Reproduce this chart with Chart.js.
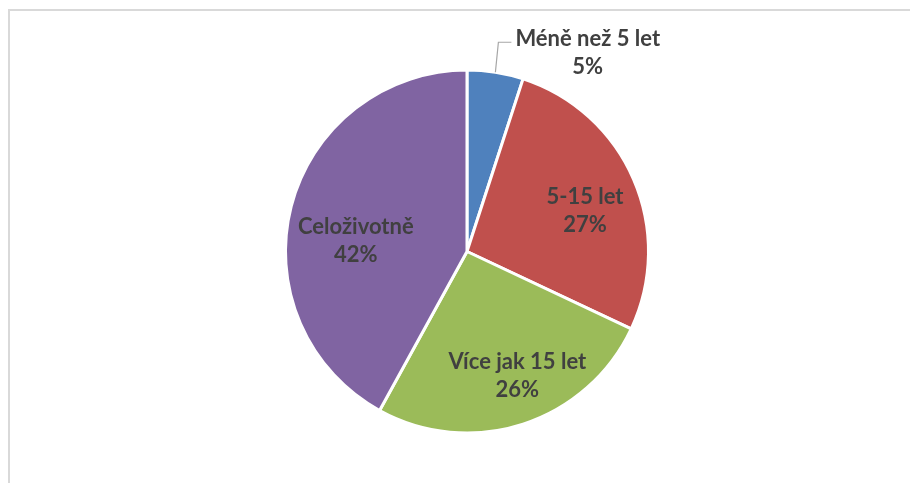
<!DOCTYPE html>
<html><head><meta charset="utf-8">
<script src="https://cdn.jsdelivr.net/npm/chart.js@4/dist/chart.umd.min.js"></script>
<style>html,body{margin:0;padding:0;background:#fff}#wrap{width:910px;height:483px;position:relative}</style>
</head><body><div id="wrap"><canvas id="c" width="910" height="483"></canvas></div>
<script>
const categories = ["Méně než 5 let", "5-15 let", "Více jak 15 let", "Celoživotně"];
const values = [5, 27, 26, 42];
const percentLabels = ["5%", "27%", "26%", "42%"];
const colors = ["#4F81BD", "#C0504D", "#9BBB59", "#8064A2"];

const frame = {
  id: 'frame',
  beforeDraw(chart) {
    const ctx = chart.ctx;
    ctx.save();
    ctx.fillStyle = '#fff';
    ctx.fillRect(0, 0, chart.width, chart.height);
    ctx.strokeStyle = '#d9d9d9';
    ctx.lineWidth = 2;
    ctx.strokeRect(9, 10, 1200, 1200);
    ctx.restore();
  }
};

const labelPlugin = {
  id: 'sliceLabels',
  afterDatasetsDraw(chart) {
    const ctx = chart.ctx;
    const meta = chart.getDatasetMeta(0);
    const place = [null, {f: 0.687, da: 0.079}, {f: 0.74, da: -0.07}, {f: 0.615, da: -0.16}];
    ctx.save();
    ctx.font = 'bold 22px Lato, "Open Sans", sans-serif';
    ctx.fillStyle = '#404040';
    ctx.textAlign = 'center';
    ctx.textBaseline = 'middle';
    meta.data.forEach((arc, i) => {
      const p = arc.getProps(['x','y','startAngle','endAngle','outerRadius'], true);
      const mid = (p.startAngle + p.endAngle) / 2;
      if (i === 0) {
        const ex = p.x + Math.cos(mid) * p.outerRadius;
        const ey = p.y + Math.sin(mid) * p.outerRadius;
        const lx = ex + 3, ly = ey - 30;
        ctx.strokeStyle = '#a6a6a6';
        ctx.lineWidth = 1.2;
        ctx.beginPath();
        ctx.moveTo(ex, ey);
        ctx.lineTo(lx, ly);
        ctx.lineTo(lx + 13, ly);
        ctx.stroke();
        const tw = ctx.measureText(categories[i]).width;
        const cx = lx + 17 + tw / 2;
        ctx.fillText(categories[i], cx, ly - 3);
        ctx.fillText(percentLabels[i], cx, ly + 25);
      } else {
        const a = mid + place[i].da;
        const r = p.outerRadius * place[i].f;
        const cx = p.x + Math.cos(a) * r;
        const cy = p.y + Math.sin(a) * r;
        ctx.fillText(categories[i], cx, cy - 14);
        ctx.fillText(percentLabels[i], cx, cy + 14);
      }
    });
    ctx.restore();
  }
};

new Chart(document.getElementById('c'), {
  type: 'pie',
  data: {
    labels: categories,
    datasets: [{
      data: values,
      backgroundColor: colors,
      borderColor: '#ffffff',
      borderWidth: 3
    }]
  },
  options: {
    responsive: false,
    animation: false,
    layout: { padding: { left: 284, right: 260, top: 68, bottom: 48 } },
    plugins: { legend: { display: false }, tooltip: { enabled: false } }
  },
  plugins: [frame, labelPlugin]
});
</script>
</body></html>
